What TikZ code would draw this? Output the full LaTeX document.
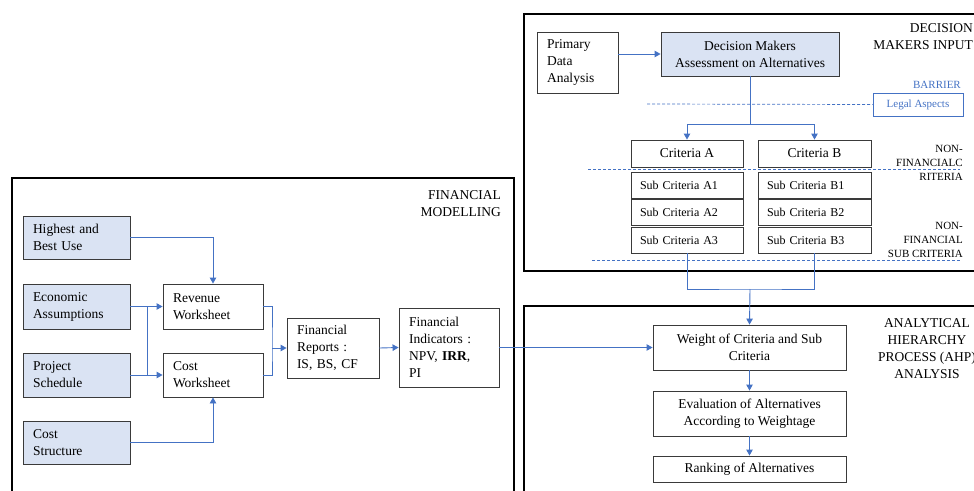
\documentclass[tikz,border=0pt]{standalone}
\usepackage{fontspec}
\setmainfont{Liberation Serif}
\usetikzlibrary{arrows.meta}

\definecolor{linkblue}{HTML}{4472C4}
\definecolor{boxfill}{HTML}{DAE3F3}
\definecolor{boxline}{HTML}{3A3A3A}
\newcommand\fsbig{\fontsize{13.5}{17}\selectfont}
\newcommand\fssmall{\fontsize{12}{15}\selectfont}
\newcommand\fstiny{\fontsize{11}{14}\selectfont}

\tikzset{
  box/.style={draw=boxline, line width=0.9pt, fill=white, inner sep=0pt, font=\fsbig, align=center},
  leftbox/.style={box, align=left, inner xsep=10pt},
  inputbox/.style={leftbox, fill=boxfill},
  subbox/.style={box, font=\fssmall, align=left, inner xsep=9pt},
  frame/.style={draw=black, line width=1.6pt},
  tag/.style={inner sep=0pt, font=\fsbig},
  link/.style={draw=linkblue, line width=0.9pt},
  arr/.style={link, -{Triangle[length=6pt,width=6.5pt]}},
  barrierline/.style={draw=linkblue, line width=0.7pt, dash pattern=on 3pt off 2pt}
}

\begin{document}
\begin{tikzpicture}[x=1pt, y=-1pt]
  \useasboundingbox (0,0) rectangle (974,490);
  \clip (0,0) rectangle (974,490);

  \draw[frame] (524,14) rectangle (995,271);
  \draw[frame] (524,306) rectangle (995,505);
  \draw[frame] (12,178) rectangle (514,505);

  \node [tag, anchor=north east, align=right] (fm_lbl) at (501,190) {FINANCIAL\\MODELLING};
  \node [tag, anchor=north east, align=right] (dm_lbl) at (973,23) {DECISION\\MAKERS INPUT};
  \node [tag, anchor=north, align=center] (ahp_lbl) at (927,318) {ANALYTICAL\\HIERARCHY\\PROCESS (AHP)\\ANALYSIS};
  \node [tag, anchor=north east, font=\fstiny, text=linkblue] (barrier_lbl) at (961,81) {BARRIER};
  \node [tag, anchor=north east, align=right, font=\fstiny] (nfc_lbl) at (963,145) {NON-\\FINANCIALC\\RITERIA};
  \node [tag, anchor=north east, align=right, font=\fstiny] (nfs_lbl) at (963,222) {NON-\\FINANCIAL\\SUB CRITERIA};

  \node [inputbox, minimum width=107pt, minimum height=43pt, text width=87pt] (hbu) at (76.5,237.5) {Highest and\\Best Use};
  \node [inputbox, minimum width=107pt, minimum height=45pt, text width=87pt] (eco) at (76.5,306.5) {Economic\\Assumptions};
  \node [inputbox, minimum width=107pt, minimum height=44pt, text width=87pt] (psch) at (76.5,375) {Project\\Schedule};
  \node [inputbox, minimum width=107pt, minimum height=43pt, text width=87pt] (cstr) at (76.5,442.5) {Cost\\Structure};
  \node [leftbox, minimum width=100pt, minimum height=45pt, text width=80pt] (rev) at (213,306.5) {Revenue\\Worksheet};
  \node [leftbox, minimum width=100pt, minimum height=44pt, text width=80pt] (cws) at (213,375) {Cost\\Worksheet};
  \node [leftbox, minimum width=92pt, minimum height=60pt, text width=72pt] (frep) at (333,348) {Financial\\Reports :\\IS, BS, CF};
  \node [leftbox, minimum width=100pt, minimum height=79pt, text width=80pt] (find) at (449,347.5) {Financial\\Indicators :\\NPV, \textbf{IRR},\\PI};

  \node [leftbox, minimum width=81pt, minimum height=61pt, text width=61pt] (pda) at (577.5,62.5) {Primary\\Data\\Analysis};
  \node [box, fill=boxfill, minimum width=178pt, minimum height=44pt] (dma) at (750,54) {Decision Makers\\Assessment on Alternatives};
  \node [draw=linkblue, line width=0.8pt, text=linkblue, font=\fstiny, inner sep=0pt, minimum width=90pt, minimum height=23pt] (legal) at (918,104.5) {Legal Aspects};

  \node [box, minimum width=112pt, minimum height=27pt] (cra) at (687,153.5) {Criteria A};
  \node [box, minimum width=113pt, minimum height=27pt] (crb) at (814.5,153.5) {Criteria B};
  \node [subbox, minimum width=112pt, minimum height=26pt, text width=94pt] (sa1) at (687,185) {Sub Criteria A1};
  \node [subbox, minimum width=112pt, minimum height=26pt, text width=94pt] (sa2) at (687,212) {Sub Criteria A2};
  \node [subbox, minimum width=112pt, minimum height=26pt, text width=94pt] (sa3) at (687,240) {Sub Criteria A3};
  \node [subbox, minimum width=113pt, minimum height=26pt, text width=95pt] (sb1) at (814.5,185) {Sub Criteria B1};
  \node [subbox, minimum width=113pt, minimum height=26pt, text width=95pt] (sb2) at (814.5,212) {Sub Criteria B2};
  \node [subbox, minimum width=113pt, minimum height=26pt, text width=95pt] (sb3) at (814.5,240) {Sub Criteria B3};

  \node [box, minimum width=193pt, minimum height=45pt] (wgt) at (749.5,347.5) {Weight of Criteria and Sub\\Criteria};
  \node [box, minimum width=193pt, minimum height=45pt] (evl) at (749.5,413.5) {Evaluation of Alternatives\\According to Weightage};
  \node [box, minimum width=193pt, minimum height=26pt] (rnk) at (749.5,469) {Ranking of Alternatives};

  \draw[barrierline] (647,104) -- (legal.west);
  \draw[barrierline] (588,169) -- (960,169);
  \draw[barrierline] (592,260) -- (960,260);

  \coordinate (split) at (147,0);
  \coordinate (merge) at (272,0);
  \coordinate (fork) at (750,124);
  \coordinate (join) at (750,289);

  \draw[arr] (hbu.east) -| (rev.north);
  \draw[arr] (eco.east) -- (rev.west);
  \draw[arr] (psch.east) -- (cws.west);
  \draw[link] (split |- eco.east) -- (split |- psch.east);
  \draw[arr] (cstr.east) -| (cws.south);
  \draw[link] (rev.east) -| (merge |- frep.west) |- (cws.east);
  \draw[arr] (merge |- frep.west) -- (frep.west);
  \draw[arr] (frep.east) -- (find.west);
  \draw[arr] (find.east) -- (wgt.west);

  \draw[arr] (pda.east |- dma.west) -- (dma.west);
  \draw[link] (dma.south) -- (fork);
  \draw[arr] (fork) -| (cra.north);
  \draw[arr] (fork) -| (crb.north);
  \draw[link] (sa3.south) |- (join) -| (sb3.south);
  \draw[arr] (join) -- (wgt.north);
  \draw[arr] (wgt.south) -- (evl.north);
  \draw[arr] (evl.south) -- (rnk.north);
\end{tikzpicture}
\end{document}
